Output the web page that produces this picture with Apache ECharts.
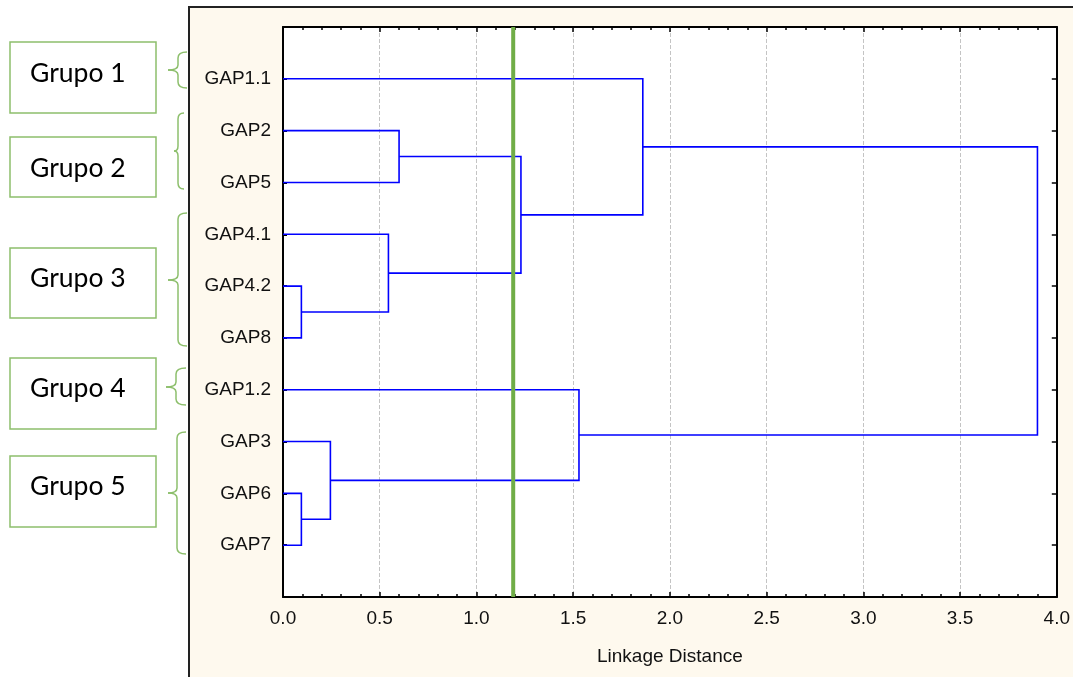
<!DOCTYPE html>
<html>
<head>
<meta charset="utf-8">
<script src="https://cdn.jsdelivr.net/npm/echarts@6/dist/echarts.min.js"></script>
<style>
  html, body { margin: 0; padding: 0; background: #fff; }
  #chart { width: 1073px; height: 677px; }
</style>
</head>
<body>
<div id="chart"></div>
<script>
// leaves, top to bottom
const leaves = ['GAP1.1', 'GAP2', 'GAP5', 'GAP4.1', 'GAP4.2', 'GAP8', 'GAP1.2', 'GAP3', 'GAP6', 'GAP7']
// [node a, node b, linkage distance] - new node gets index leaves.length + row
const merges = [
  [4, 5, 0.095],
  [8, 9, 0.095],
  [7, 11, 0.245],
  [3, 10, 0.545],
  [1, 2, 0.6],
  [14, 13, 1.23],
  [6, 12, 1.53],
  [0, 15, 1.86],
  [17, 16, 3.9]
]
const cutoff = 1.19
const groupNames = ['Grupo 1', 'Grupo 2', 'Grupo 3', 'Grupo 4', 'Grupo 5']

// annotation layout (boxes + braces on the left, in px)
const boxTops = [42, 137, 248, 358, 456]
const boxBottoms = [113, 197, 318, 429, 527]
const textY = [73, 168, 278, 388, 486]
const braces = [
  // [x, top, bottom, mid, tipX, endX]
  [178, 52, 88, 70, 168, 187],
  [178, 113, 189, 151, 174, 184],
  [178, 213, 346, 280, 168, 187],
  [176, 368, 405, 387, 166, 186],
  [177, 432, 554, 493, 168, 186]
]

const nodes = leaves.map((_, i) => ({ x: 0, y: i + 1 }))
const links = []
merges.forEach(([a, b, h]) => {
  const na = nodes[a]
  const nb = nodes[b]
  links.push({ coords: [[na.x, na.y], [h, na.y], [h, nb.y], [nb.x, nb.y]] })
  nodes.push({ x: h, y: (na.y + nb.y) / 2 })
})

const green = '#8dbf6c'
const braceStyle = { stroke: green, lineWidth: 1.5, fill: null }
const curve = (x1, y1, cx, cy, x2, y2) => ({
  type: 'bezierCurve',
  shape: { x1, y1, cpx1: cx, cpy1: cy, x2, y2 },
  style: braceStyle
})
const seg = (x1, y1, x2, y2) => ({
  type: 'line',
  shape: { x1, y1, x2, y2 },
  style: braceStyle
})

const graphic = [{
  type: 'rect',
  z: -10,
  shape: { x: 189, y: 7, width: 950, height: 720 },
  style: { fill: '#fef9ee', stroke: '#222', lineWidth: 2 }
}]
groupNames.forEach((name, i) => {
  graphic.push({
    type: 'rect',
    shape: { x: 10, y: boxTops[i], width: 146, height: boxBottoms[i] - boxTops[i] },
    style: { fill: '#fff', stroke: green, lineWidth: 1.5 }
  })
  graphic.push({
    type: 'text',
    x: 30,
    y: textY[i],
    style: { text: name, font: '26.5px Lato', fill: '#000', verticalAlign: 'middle' }
  })
  const [x, t, b, m, tip, end] = braces[i]
  graphic.push(curve(end, t, x, t, x, t + 6))
  graphic.push(seg(x, t + 6, x, m - 5))
  graphic.push(curve(x, m - 5, x, m, tip, m))
  graphic.push(curve(tip, m, x, m, x, m + 5))
  graphic.push(seg(x, m + 5, x, b - 6))
  graphic.push(curve(x, b - 6, x, b, end, b))
})

const labelFont = { fontFamily: 'Liberation Sans, Arial', fontSize: 19, color: '#111' }

const chart = echarts.init(document.getElementById('chart'))
chart.setOption({
  backgroundColor: '#fff',
  animation: false,
  graphic,
  grid: {
    left: 283,
    top: 27,
    width: 777,
    height: 570,
    show: true,
    backgroundColor: '#fff',
    borderWidth: 0
  },
  xAxis: [{
    type: 'value',
    min: 0,
    max: 4,
    interval: 0.5,
    name: 'Linkage Distance',
    nameLocation: 'middle',
    nameGap: 50,
    nameTextStyle: labelFont,
    axisLine: { show: true, onZero: false, lineStyle: { color: '#000', width: 2 } },
    axisTick: { show: true, inside: true, length: 5, lineStyle: { color: '#000', width: 1.5 } },
    minorTick: { show: true, splitNumber: 5, length: 3, lineStyle: { color: '#000', width: 1.5 } },
    axisLabel: Object.assign({ margin: 12, formatter: v => v.toFixed(1) }, labelFont),
    splitLine: { show: true, lineStyle: { color: '#c4c4c4', type: 'dashed', width: 1 } }
  }, {
    type: 'value',
    position: 'top',
    min: 0,
    max: 4,
    interval: 0.5,
    axisLine: { show: true, onZero: false, lineStyle: { color: '#000', width: 2 } },
    axisTick: { show: true, inside: true, length: 5, lineStyle: { color: '#000', width: 1.5 } },
    minorTick: { show: true, splitNumber: 5, length: 3, lineStyle: { color: '#000', width: 1.5 } },
    axisLabel: { show: false },
    splitLine: { show: false }
  }],
  yAxis: [{
    type: 'value',
    min: 0,
    max: leaves.length + 1,
    interval: 1,
    inverse: true,
    axisLine: { show: true, onZero: false, lineStyle: { color: '#000', width: 2 } },
    axisTick: { show: true, inside: true, length: 4, lineStyle: { color: '#000', width: 2 } },
    axisLabel: Object.assign({ margin: 12, formatter: v => leaves[v - 1] || '' }, labelFont),
    splitLine: { show: false }
  }, {
    type: 'value',
    position: 'right',
    min: 0,
    max: leaves.length + 1,
    interval: 1,
    inverse: true,
    axisLine: { show: true, onZero: false, lineStyle: { color: '#000', width: 2 } },
    axisTick: { show: true, inside: true, length: 5, lineStyle: { color: '#000', width: 1.5 } },
    axisLabel: { show: false },
    splitLine: { show: false }
  }],
  series: [{
    type: 'lines',
    coordinateSystem: 'cartesian2d',
    xAxisIndex: 0,
    yAxisIndex: 0,
    polyline: true,
    silent: true,
    lineStyle: { color: '#0000ff', width: 1.6, opacity: 1 },
    data: links
  }, {
    type: 'line',
    xAxisIndex: 0,
    yAxisIndex: 0,
    symbol: 'none',
    silent: true,
    lineStyle: { color: '#70ad47', width: 4 },
    data: [[cutoff, 0], [cutoff, leaves.length + 1]]
  }]
})
</script>
</body>
</html>
